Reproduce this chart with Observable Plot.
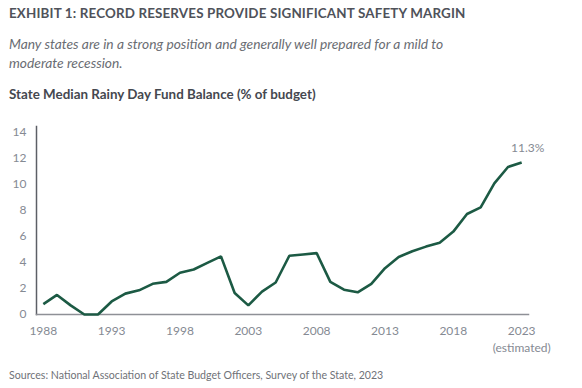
<!DOCTYPE html>
<html>
<head>
<meta charset="utf-8">
<script src="https://cdn.jsdelivr.net/npm/d3@7"></script>
<script src="https://cdn.jsdelivr.net/npm/@observablehq/plot@0.6"></script>
<style>
  html, body { margin: 0; padding: 0; background: #fff; }
  body { width: 582px; height: 388px; overflow: hidden; font-family: Lato, "Open Sans", sans-serif; position: relative; }
  .title { position: absolute; left: 9px; top: 5px; font-size: 13.4px; font-weight: 700; color: #4f525a; letter-spacing: 0.15px; white-space: nowrap; }
  .subtitle { position: absolute; left: 9px; top: 34px; font-size: 13.8px; font-style: italic; color: #6a6d73; line-height: 19px; width: 470px; }
  .heading { position: absolute; left: 9px; top: 86px; font-size: 13.4px; font-weight: 700; color: #45484f; white-space: nowrap; }
  #chart { position: absolute; left: 0; top: 118px; }
  .caption { position: absolute; left: 9px; top: 369px; font-size: 10.6px; color: #6f7278; white-space: nowrap; }
</style>
</head>
<body>
<div class="title">EXHIBIT 1: RECORD RESERVES PROVIDE SIGNIFICANT SAFETY MARGIN</div>
<div class="subtitle">Many states are in a strong position and generally well prepared for a mild to moderate recession.</div>
<div class="heading">State Median Rainy Day Fund Balance (% of budget)</div>
<div id="chart"></div>
<div class="caption">Sources: National Association of State Budget Officers, Survey of the State, 2023</div>
<script>
const years = [1988,1989,1990,1991,1992,1993,1994,1995,1996,1997,1998,1999,2000,2001,2002,2003,2004,2005,2006,2007,2008,2009,2010,2011,2012,2013,2014,2015,2016,2017,2018,2019,2020,2021,2022,2023];
const balance = [0.8,1.5,0.7,0.0,0.0,1.0,1.6,1.85,2.35,2.5,3.2,3.45,3.95,4.45,1.65,0.7,1.75,2.45,4.5,4.6,4.7,2.5,1.9,1.7,2.35,3.55,4.4,4.85,5.2,5.5,6.35,7.7,8.2,10.05,11.3,11.65];
const xTicks = [1988,1993,1998,2003,2008,2013,2018,2023];
const yTicks = [0,2,4,6,8,10,12,14];
const endLabel = ["11.3%"];
const estimatedNote = ["(estimated)"];

const data = years.map((y, i) => ({year: y, value: balance[i]}));
const last = data[data.length - 1];

const chart = Plot.plot({
  width: 582,
  height: 240,
  marginLeft: 36,
  marginRight: 54,
  marginTop: 8,
  marginBottom: 44,
  style: {fontFamily: "Lato, 'Open Sans', sans-serif", fontSize: "12px", color: "#858a93", background: "#fff"},
  x: {domain: [1987.5, 2023.5], ticks: xTicks, tickFormat: d => String(d), tickSize: 0, tickPadding: 12, label: null},
  y: {domain: [0, 14.4], ticks: yTicks, tickSize: 0, tickPadding: 10, label: null},
  marks: [
    Plot.axisX({ticks: xTicks, tickFormat: d => String(d), tickSize: 0, tickPadding: 12, fill: "#858a93", fontSize: 12, label: null}),
    Plot.axisY({ticks: yTicks, tickSize: 0, tickPadding: 10, fill: "#858a93", fontSize: 12, label: null}),
    Plot.frame({anchor: "left", stroke: "#5c5f66", strokeWidth: 1.5}),
    Plot.frame({anchor: "bottom", stroke: "#8e9096", strokeWidth: 1.5}),
    Plot.line(data, {x: "year", y: "value", stroke: "#1c5a44", strokeWidth: 2.6, strokeLinejoin: "miter", strokeLinecap: "butt"}),
    Plot.text(endLabel, {x: () => last.year, y: () => last.value, text: d => d, dx: 6, dy: -14, fill: "#858a93", fontSize: 12}),
    Plot.text(estimatedNote, {x: () => xTicks[xTicks.length - 1], y: () => 0, text: d => d, dy: 34, fill: "#858a93", fontSize: 12})
  ]
});
document.getElementById("chart").appendChild(chart);
</script>
</body>
</html>
